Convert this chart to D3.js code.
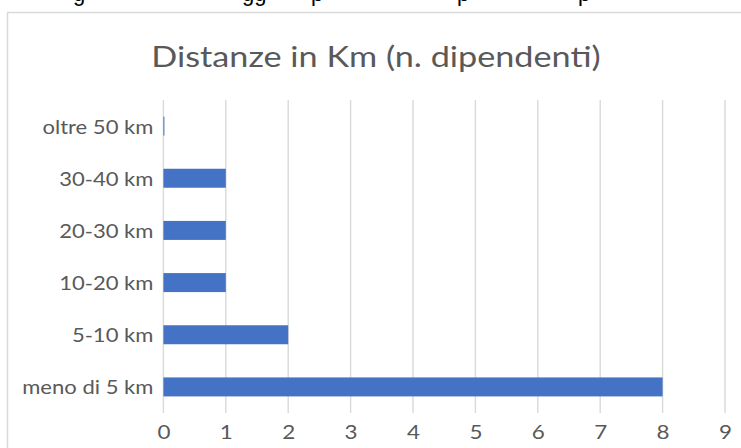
<!DOCTYPE html>
<html><head><meta charset="utf-8">
<script src="https://cdn.jsdelivr.net/npm/d3@7/dist/d3.min.js"></script>
<style>body{margin:0;background:#fff}svg{display:block}</style>
</head><body>
<svg id="c" width="741" height="448"></svg>
<script>
const title = "Distanze in Km (n. dipendenti)";
const categories = ["oltre 50 km","30-40 km","20-30 km","10-20 km","5-10 km","meno di 5 km"];
const values = [0,1,1,1,2,8];
const xTicks = [0,1,2,3,4,5,6,7,8,9];
const topGlyphs = [["g",73],["gg",242],["p",311],["p",457],["p",578]];

const svg = d3.select("#c");
const font = "Lato, 'Open Sans', sans-serif";
const grey = "#595959";
function widen(sel, k) {
  sel.each(function() {
    const len = this.getComputedTextLength();
    d3.select(this).attr("textLength", len * k).attr("lengthAdjust", "spacingAndGlyphs");
  });
}

// cut-off line of document text above the chart
svg.selectAll("text.top").data(topGlyphs).join("text")
  .attr("x", d => d[1]).attr("y", 0.5)
  .attr("font-family", "'Liberation Sans', Arial, sans-serif").attr("font-size", 22)
  .attr("fill", "#000").text(d => d[0]);

// chart border
svg.append("rect").attr("x", 7.5).attr("y", 12.5).attr("width", 800).attr("height", 500)
  .attr("fill", "#fff").attr("stroke", "#d9d9d9").attr("stroke-width", 1.5);

const x = d3.scaleLinear().domain([0, 9]).range([163.4, 725]);
const y = d3.scaleBand().domain(categories).range([100, 413]).paddingInner(0.636).paddingOuter(0.318);

// gridlines
svg.append("g").selectAll("line").data(xTicks).join("line")
  .attr("x1", d => x(d)).attr("x2", d => x(d))
  .attr("y1", 100).attr("y2", 413)
  .attr("stroke", "#d9d9d9").attr("stroke-width", 1.4);

// bars
svg.append("g").selectAll("rect").data(categories).join("rect")
  .attr("x", x(0))
  .attr("y", d => y(d))
  .attr("width", (d, i) => Math.max(1, x(values[i]) - x(0)))
  .attr("height", y.bandwidth())
  .attr("fill", "#4472c4");

// x axis labels
const xa = svg.append("g").attr("transform", "translate(0,413)")
  .call(d3.axisBottom(x).tickValues(xTicks).tickSize(0).tickPadding(12).tickFormat(d3.format("d")));
xa.select(".domain").remove();
xa.selectAll("text").attr("font-family", font).attr("font-size", 19.5).attr("fill", grey);
widen(xa.selectAll("text"), 1.15);

// y axis labels
const ya = svg.append("g").attr("transform", `translate(${x(0)},0)`)
  .call(d3.axisLeft(y).tickSize(0).tickPadding(10));
ya.select(".domain").remove();
ya.selectAll("text").attr("font-family", font).attr("font-size", 19.5).attr("fill", grey).attr("dy", "0.38em");
widen(ya.selectAll("text"), 1.13);

// title
const t = svg.append("text").attr("x", 376).attr("y", 67).attr("text-anchor", "middle")
  .attr("font-family", font).attr("font-size", 28.5).attr("fill", grey).text(title);
widen(t, 1.2);
</script>
</body></html>
